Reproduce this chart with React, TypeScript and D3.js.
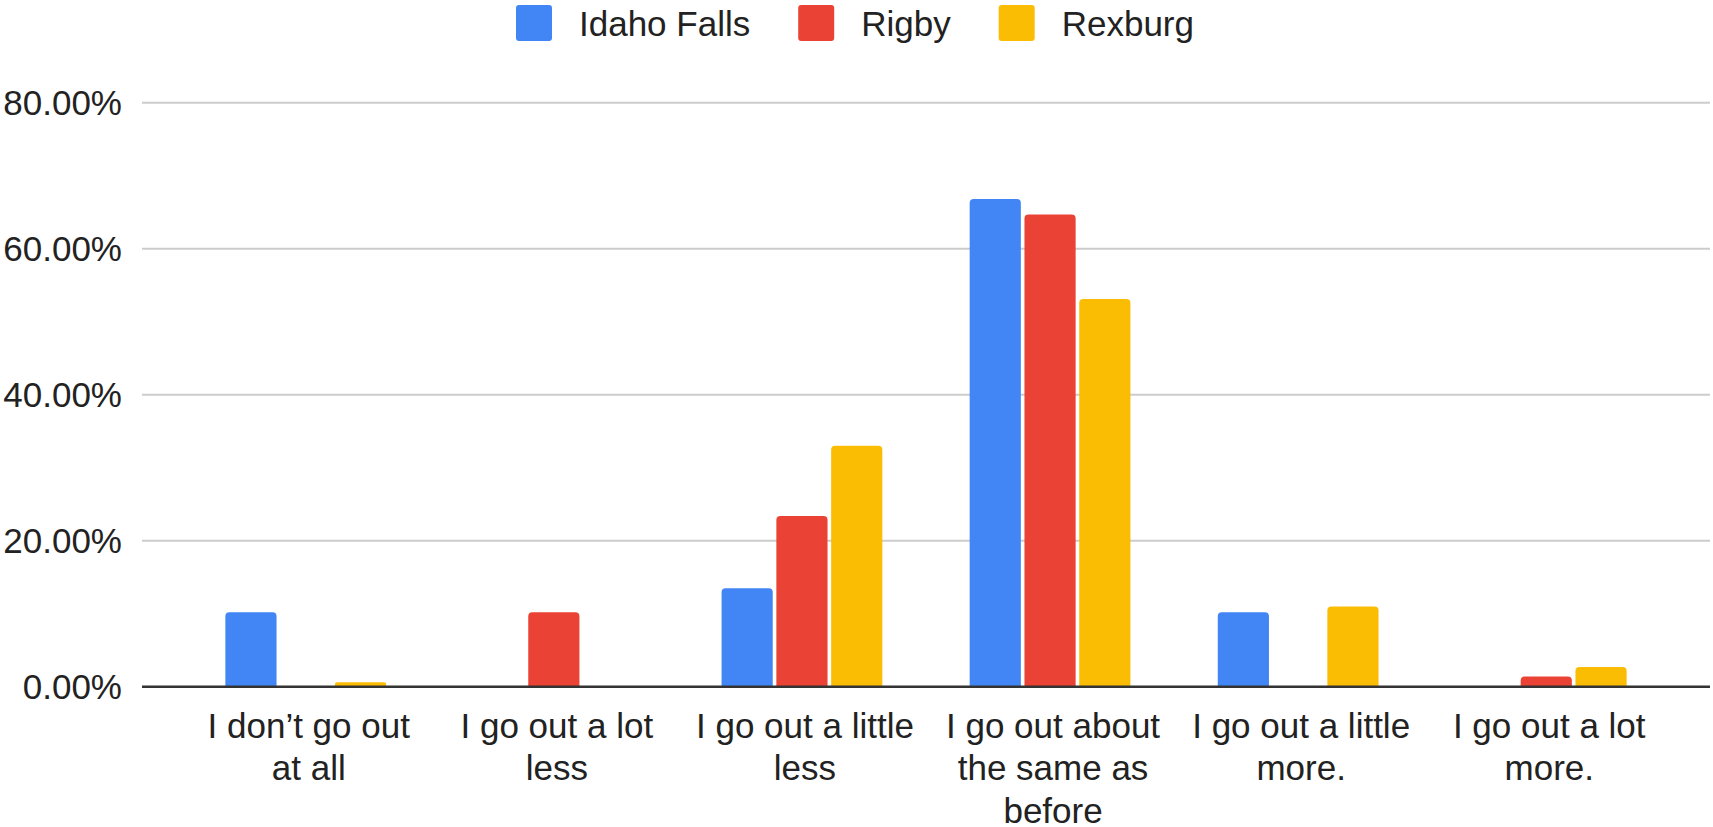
import React from "react";
import * as d3 from "d3";

const categories = [
  "I don’t go out at all",
  "I go out a lot less",
  "I go out a little less",
  "I go out about the same as before",
  "I go out a little more.",
  "I go out a lot more.",
];
const seriesNames = ["Idaho Falls", "Rigby", "Rexburg"];
const idahoFalls = [10.2, 0, 13.5, 66.8, 10.2, 0];
const rigby = [0, 10.2, 23.4, 64.7, 0, 1.4];
const rexburg = [0.6, 0, 33.0, 53.1, 11.0, 2.7];
const yTicks = [0, 20, 40, 60, 80];
const colors = ["#4285F4", "#EA4335", "#FBBC04"];

const W = 1713;
const H = 827;
const FONT = "Arial, 'Liberation Sans', sans-serif";

function measure(text: string, size: number): number {
  try {
    const c = document.createElement("canvas").getContext("2d");
    if (c) {
      c.font = `${size}px Arial, 'Liberation Sans', sans-serif`;
      return c.measureText(text).width;
    }
  } catch (e) {}
  return text.length * size * 0.5;
}

function wrap(text: string, maxW: number, size: number): string[] {
  const words = text.split(" ");
  const lines: string[] = [];
  let cur = "";
  for (const w of words) {
    const t = cur ? cur + " " + w : w;
    if (cur && measure(t, size) > maxW) {
      lines.push(cur);
      cur = w;
    } else cur = t;
  }
  if (cur) lines.push(cur);
  return lines;
}

function barPath(x: number, y: number, w: number, h: number, r: number): string {
  const rr = Math.min(r, h / 2, w / 2);
  const p = d3.path();
  p.moveTo(x, y + h);
  p.lineTo(x, y + rr);
  p.quadraticCurveTo(x, y, x + rr, y);
  p.lineTo(x + w - rr, y);
  p.quadraticCurveTo(x + w, y, x + w, y + rr);
  p.lineTo(x + w, y + h);
  p.closePath();
  return p.toString();
}

export default function App() {
  const left = 142;
  const right = 1710;
  const top = 102.7;
  const bottom = 686.7;
  const data = [idahoFalls, rigby, rexburg];

  const x0 = d3.scaleBand<string>().domain(categories).range([left, right]).paddingInner(0).paddingOuter(0.16);
  const groupW = x0.step() * 0.648;
  const x1 = d3.scaleBand<string>().domain(seriesNames).range([0, groupW]).paddingInner(0.066);
  const y = d3.scaleLinear().domain([0, 80]).range([bottom, top]);

  // legend layout
  let lx = 516;
  const legendItems = seriesNames.map((name, i) => {
    const item = { name, color: colors[i], sx: lx, tx: lx + 63 };
    lx += 63 + measure(name, 35) + 48;
    return item;
  });

  return (
    <svg width={W} height={H} style={{ position: "absolute", left: 0, top: 0, background: "#fff" }} fontFamily={FONT}>
      <rect x={0} y={0} width={W} height={H} fill="#fff" />
      {legendItems.map((it) => (
        <g key={it.name}>
          <rect x={it.sx} y={5} width={36} height={36} rx={3} fill={it.color} />
          <text x={it.tx} y={36} fontSize={35} fill="#222">{it.name}</text>
        </g>
      ))}
      {yTicks.map((t) => (
        <g key={t}>
          {t !== 0 && (
            <line x1={left} x2={right} y1={y(t)} y2={y(t)} stroke="#cccccc" strokeWidth={2} />
          )}
          <text x={122} y={y(t) + 12} fontSize={35} textAnchor="end" fill="#222">
            {t.toFixed(2) + "%"}
          </text>
        </g>
      ))}
      {categories.map((c, ci) => {
        const cx = (x0(c) as number) + x0.bandwidth() / 2;
        return (
          <g key={c}>
            {data.map((vals, si) => {
              const v = vals[ci];
              if (v <= 0) return null;
              const bx = cx - groupW / 2 + (x1(seriesNames[si]) as number);
              const by = y(v);
              return (
                <path key={si} d={barPath(bx, by, x1.bandwidth(), y(0) - by, 4)} fill={colors[si]} />
              );
            })}
            {wrap(c, 228, 35).map((line, li) => (
              <text key={li} x={cx + 3} y={738 + li * 42.4} fontSize={35} textAnchor="middle" fill="#222">
                {line}
              </text>
            ))}
          </g>
        );
      })}
      <line x1={left} x2={right} y1={y(0)} y2={y(0)} stroke="#333333" strokeWidth={2.5} />
    </svg>
  );
}
